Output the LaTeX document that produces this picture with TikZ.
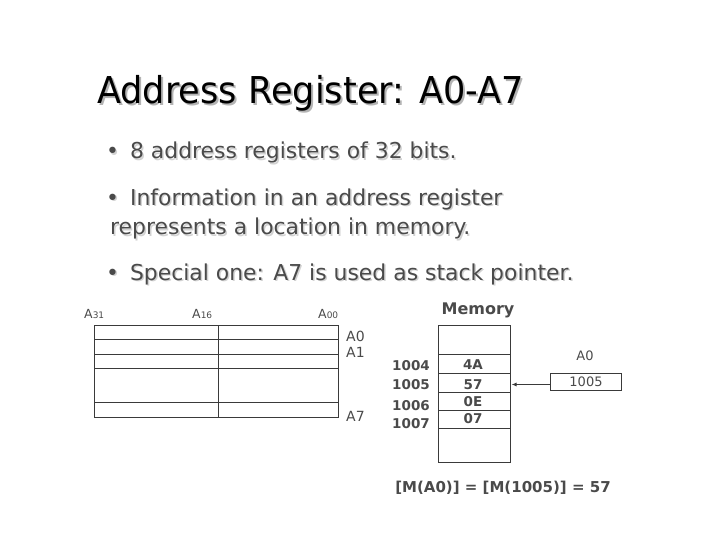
\documentclass[tikz,border=0pt]{standalone}
\usepackage{fontspec}
\setmainfont{DejaVu Sans}
\newfontfamily\headfont[FakeStretch=0.95]{DejaVu Sans}
\usetikzlibrary{arrows.meta}
\definecolor{txtgray}{HTML}{4A4A4A}
\definecolor{shadowgray}{HTML}{B4B4B4}
\definecolor{linegray}{HTML}{3A3A3A}
% Text mit leichtem Schatten
\newcommand{\shadowed}[3]{\makebox[0pt][l]{\hspace{#1}\raisebox{-#1}{\color{#2}#3}}#3}
\begin{document}
\begin{tikzpicture}[x=1pt,y=-1pt,
    headline/.style={anchor=base west, inner sep=0pt, font=\headfont\fontsize{37}{40}\selectfont},
    point/.style={anchor=base west, inner sep=0pt, text=txtgray, font=\fontsize{21.9}{24}\selectfont},
    bitlabel/.style={inner sep=0pt, text=txtgray, font=\fontsize{12.5}{14}\selectfont},
    reglabel/.style={inner sep=0pt, text=txtgray, font=\fontsize{14}{16}\selectfont},
    memtext/.style={inner sep=0pt, text=txtgray, font=\fontsize{13.5}{16}\selectfont\bfseries},
    frame/.style={draw=linegray, line width=0.9pt}]
  \useasboundingbox (0,0) rectangle (720,540);

  % Titel mit Schatten
  \node[headline] (title) at (97,103.5) {\shadowed{2pt}{shadowgray}{Address Register: A0-A7}};

  % Aufzaehlung
  \node[point] (p1) at (106,159) {\shadowed{1.5pt}{shadowgray!60}{\textbullet\hspace{0.5em}8 address registers of 32 bits.}};
  \node[point] (p2) at (106,205.5) {\shadowed{1.5pt}{shadowgray!60}{\textbullet\hspace{0.5em}Information in an address register}};
  \node[point] (p2b) at (110,235) {\shadowed{1.5pt}{shadowgray!60}{represents a location in memory.}};
  \node[point] (p3) at (106,280) {\shadowed{1.5pt}{shadowgray!60}{\textbullet\hspace{0.5em}Special one: A7 is used as stack pointer.}};

  % Registersatz A0..A7
  \draw[frame] (94,325) rectangle (338,417);
  \draw[frame] (218,325) -- (218,417);
  \foreach \y in {339.5,354,368.5,402.5}
    \draw[frame] (94,\y) -- (338,\y);
  \node[bitlabel, anchor=base west] (a31) at (84,318.5) {A{\fontsize{9}{10}\selectfont 31}};
  \node[bitlabel, anchor=base west] (a16) at (192,318.5) {A{\fontsize{9}{10}\selectfont 16}};
  \node[bitlabel, anchor=base west] (a00) at (318,318.5) {A{\fontsize{9}{10}\selectfont 00}};
  \node[reglabel, anchor=base west] (ra0) at (346,341.5) {A0};
  \node[reglabel, anchor=base west] (ra1) at (346,357) {A1};
  \node[reglabel, anchor=base west] (ra7) at (346,421) {A7};

  % Speicher
  \node[memtext, font=\fontsize{16}{18}\selectfont\bfseries] (memory) at (478,310) {Memory};
  \draw[frame] (438,325) rectangle (510.5,462.5);
  \foreach \y in {354,373.5,392,410,428.5}
    \draw[frame] (438,\y) -- (510.5,\y);
  \node[memtext] (m1004) at (411,366) {1004};
  \node[memtext] (m1005) at (411,385) {1005};
  \node[memtext] (m1006) at (411,406) {1006};
  \node[memtext] (m1007) at (411,423.5) {1007};
  \node[memtext] (v4a) at (473,364.5) {4A};
  \node[memtext] (v57) at (473,385) {57};
  \node[memtext] (v0e) at (473,401.5) {0E};
  \node[memtext] (v07) at (473,419) {07};
  \coordinate (cell57) at (511.5,384.5);

  % Register A0 zeigt auf 1005
  \node[draw=linegray, line width=0.9pt, minimum width=71.5pt, minimum height=17.5pt,
        inner sep=0pt, text=txtgray, font=\fontsize{13}{15}\selectfont] (regA0) at (586,382) {1005};
  \node[reglabel, font=\fontsize{13}{15}\selectfont] (regA0lab) at (585,355.5) {A0};
  \draw[linegray, line width=1pt, -{Latex[length=5pt,width=4pt]}] (regA0.west |- cell57) -- (cell57);

  % Ergebnis
  \node[memtext, font=\fontsize{15}{18}\selectfont\bfseries] (result) at (503,488) {[M(A0)] = [M(1005)] = 57};
\end{tikzpicture}
\end{document}
